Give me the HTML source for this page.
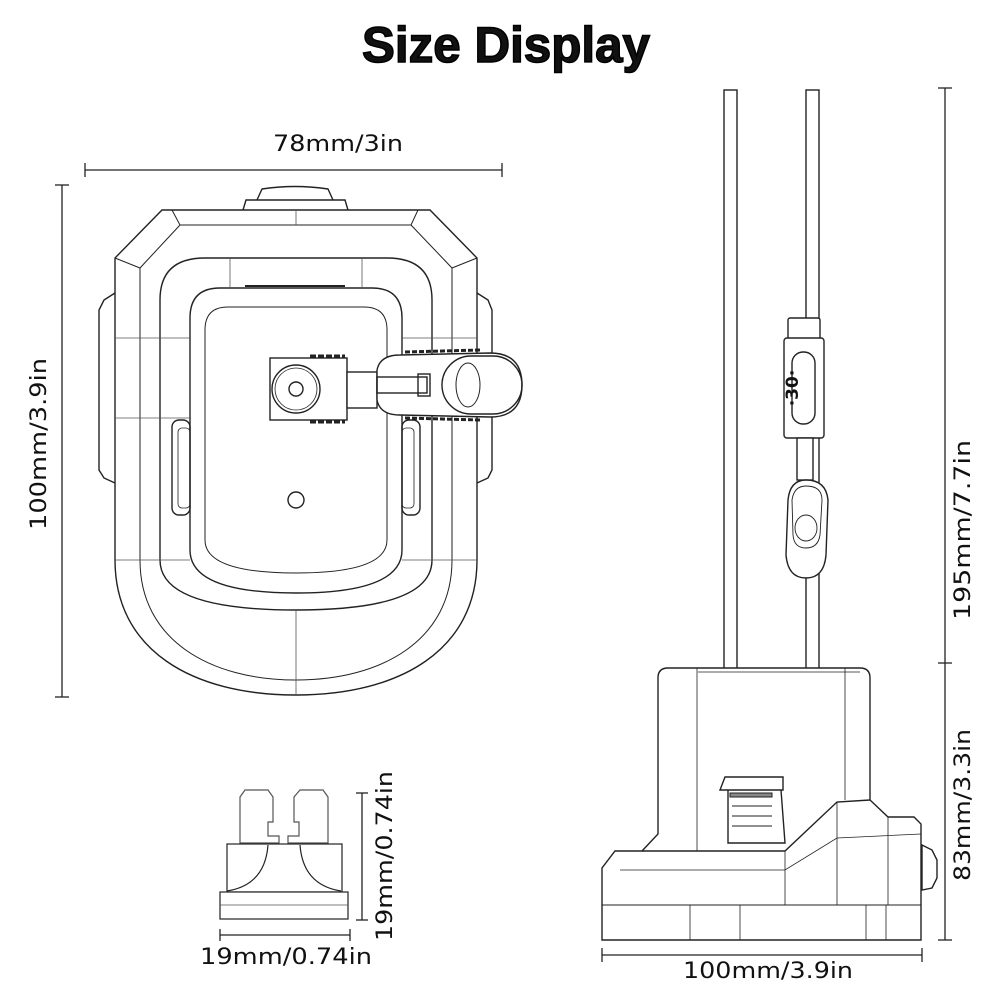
<!DOCTYPE html>
<html><head><meta charset="utf-8"><style>
html,body{margin:0;padding:0;background:#fff;}
svg{display:block;}
text{font-family:"DejaVu Sans","Liberation Sans",sans-serif;fill:#111;}
</style></head><body>
<svg width="1000" height="1000" viewBox="0 0 1000 1000" xmlns="http://www.w3.org/2000/svg">
<text x="506" y="62" font-size="50" font-weight="bold" text-anchor="middle" textLength="288" lengthAdjust="spacingAndGlyphs" stroke="#000" stroke-width="1.5" style="font-family:'Liberation Sans',sans-serif">Size Display</text>

<g stroke="#222" fill="none" stroke-width="1.3">
<line x1="85" y1="170" x2="502" y2="170"/><line x1="85" y1="163" x2="85" y2="177"/><line x1="502" y1="163" x2="502" y2="177"/>
<line x1="62" y1="185" x2="62" y2="697"/><line x1="55" y1="185" x2="69" y2="185"/><line x1="55" y1="697" x2="69" y2="697"/>
<line x1="945" y1="88" x2="945" y2="940"/><line x1="938" y1="88" x2="952" y2="88"/><line x1="938" y1="663" x2="952" y2="663"/><line x1="938" y1="940" x2="952" y2="940"/>
<line x1="602" y1="955" x2="922" y2="955"/><line x1="602" y1="948" x2="602" y2="962"/><line x1="922" y1="948" x2="922" y2="962"/>
<line x1="362" y1="793" x2="362" y2="920"/><line x1="356" y1="793" x2="368" y2="793"/><line x1="356" y1="920" x2="368" y2="920"/>
<line x1="220" y1="935" x2="350" y2="935"/><line x1="220" y1="929" x2="220" y2="941"/><line x1="350" y1="929" x2="350" y2="941"/>
</g>

<text x="338" y="151" font-size="22" text-anchor="middle" textLength="130" lengthAdjust="spacingAndGlyphs">78mm/3in</text>
<text transform="translate(46,444) rotate(-90)" font-size="22" text-anchor="middle" textLength="172" lengthAdjust="spacingAndGlyphs">100mm/3.9in</text>
<text transform="translate(970,530) rotate(-90)" font-size="22" text-anchor="middle" textLength="180" lengthAdjust="spacingAndGlyphs">195mm/7.7in</text>
<text transform="translate(970,805) rotate(-90)" font-size="22" text-anchor="middle" textLength="152" lengthAdjust="spacingAndGlyphs">83mm/3.3in</text>
<text x="768" y="978" font-size="22" text-anchor="middle" textLength="170" lengthAdjust="spacingAndGlyphs">100mm/3.9in</text>
<text x="286" y="964" font-size="22" text-anchor="middle" textLength="172" lengthAdjust="spacingAndGlyphs">19mm/0.74in</text>
<text transform="translate(392,856) rotate(-90)" font-size="22" text-anchor="middle" textLength="170" lengthAdjust="spacingAndGlyphs">19mm/0.74in</text>

<g stroke="#222" fill="none" stroke-width="1.4">
<path d="M257,200 L262,189 Q295,184 328,189 L333,200"/>
<path d="M243,210 L246,200 L345,200 L348,210"/>
<path d="M162,210 L430,210 L477,258 L477,560 C477,650 400,695 296,695 C192,695 115,650 115,560 L115,258 Z"/>
<path d="M172,210 L180,225 L140,268 L140,560 C140,640 210,680 296,680 C382,680 452,640 452,560 L452,268 L411,225 L418,210" stroke-width="1"/>
<line x1="180" y1="225" x2="411" y2="225" stroke-width="1"/>
<line x1="115" y1="258" x2="140" y2="268" stroke-width="1"/><line x1="477" y1="258" x2="452" y2="268" stroke-width="1"/>
<path d="M115,293 L104,300 L99,310 L99,470 L104,478 L115,483"/>
<path d="M477,293 L488,300 L492,310 L492,470 L488,478 L477,483"/>
<path d="M160,300 Q160,258 205,258 L387,258 Q432,258 432,300 L432,560 Q432,610 296,610 Q160,610 160,560 Z"/>
<path d="M190,318 Q190,288 220,288 L372,288 Q402,288 402,318 L402,550 Q402,593 296,593 Q190,593 190,550 Z"/>
<path d="M205,330 Q205,307 228,307 L364,307 Q387,307 387,330 L387,540 Q387,573 296,573 Q205,573 205,540 Z" stroke-width="1"/>
<line x1="245" y1="286" x2="345" y2="286" stroke-width="2"/>
<g stroke-width="0.8" stroke="#555">
<line x1="115" y1="338" x2="190" y2="338"/><line x1="402" y1="338" x2="477" y2="338"/>
<line x1="115" y1="418" x2="190" y2="418"/><line x1="115" y1="560" x2="190" y2="560"/><line x1="402" y1="560" x2="477" y2="560"/>
<line x1="296" y1="210" x2="296" y2="225"/><line x1="296" y1="610" x2="296" y2="695"/>
<line x1="230" y1="258" x2="230" y2="288"/><line x1="362" y1="258" x2="362" y2="288"/>
</g>
<rect x="172" y="420" width="18" height="95" rx="7"/><rect x="178" y="428" width="12" height="80" rx="4" stroke-width="0.8"/>
<rect x="402" y="420" width="18" height="95" rx="7"/><rect x="402" y="428" width="12" height="80" rx="4" stroke-width="0.8"/>
<rect x="270" y="358" width="77" height="62" fill="#fff"/>
<circle cx="296" cy="389" r="24"/><circle cx="296" cy="389" r="21" stroke-width="0.8"/><circle cx="296" cy="389" r="7"/>
<rect x="347" y="372" width="30" height="36" fill="#fff"/>
<path d="M377,370 Q380,355 400,355 L490,353 Q522,353 522,385 Q522,417 490,417 L400,415 Q380,415 377,400 Z" fill="#fff"/>
<rect x="442" y="356" width="80" height="58" rx="29"/>
<ellipse cx="468" cy="385" rx="12" ry="22" stroke-width="1"/>
<rect x="377" y="377" width="50" height="16"/><rect x="418" y="374" width="12" height="22"/>
<line x1="310" y1="356" x2="345" y2="356" stroke-width="3" stroke-dasharray="6 2"/>
<line x1="310" y1="422" x2="345" y2="422" stroke-width="3" stroke-dasharray="6 2"/>
<line x1="405" y1="352" x2="480" y2="350" stroke-width="3" stroke-dasharray="5 2"/>
<line x1="405" y1="418" x2="480" y2="420" stroke-width="3" stroke-dasharray="5 2"/>
<circle cx="296" cy="500" r="8"/>
</g>

<g stroke="#222" fill="#fff" stroke-width="1.4">
<rect x="724" y="90" width="13" height="580"/>
<rect x="806" y="90" width="13" height="580"/>
<rect x="788" y="318" width="32" height="22" rx="2"/>
<rect x="784" y="338" width="40" height="100" rx="3"/>
<rect x="792" y="352" width="23" height="72" rx="11"/>
<rect x="797" y="438" width="16" height="42"/>
<path d="M788,500 Q790,480 806,480 Q826,480 828,500 L826,555 Q824,578 806,578 Q788,578 786,555 Z"/>
<path d="M792,500 Q794,486 806,486 Q822,486 822,500 L820,535 Q818,548 806,548 Q794,548 793,535 Z" stroke-width="0.9"/>
<ellipse cx="806" cy="528" rx="11" ry="13" stroke-width="0.9"/>
<path d="M658,820 L658,678 Q658,668 668,668 L860,668 Q870,668 870,678 L870,800 L888,817 L914,817 L921,824 L921,940 L602,940 L602,868 L615,851 L642,851 L658,834 Z"/>
<path d="M602,905 L921,905" stroke-width="1"/>
<path d="M642,851 L785,851 L837,802 L870,800" fill="none"/>
<path d="M785,851 L785,905 M837,802 L837,905 M888,817 L888,905 M620,870 L785,870 L837,838 L921,834" fill="none" stroke-width="0.8"/>
<path d="M697,668 L697,851 M698,672 L860,672 M845,668 L845,800" fill="none" stroke-width="0.8"/>
<path d="M690,905 L690,940 M740,905 L740,940 M866,905 L866,940 M886,905 L886,940" fill="none" stroke-width="0.8"/>
<path d="M720,790 L725,777 L783,777 L783,790 Z"/>
<path d="M728,790 L728,843 L785,843 L781,790" fill="none"/>
<rect x="730" y="793" width="42" height="4" fill="#888" stroke-width="1"/>
<path d="M732,806 L772,806 M732,816 L772,816 M732,826 L772,826" stroke-width="1"/>
<path d="M922,845 L932,850 L937,860 L937,878 L932,888 L922,890 Z"/>
</g>
<text transform="translate(798,388) rotate(-90)" font-size="17" font-weight="bold" text-anchor="middle">·30·</text>

<g stroke="#555" fill="#fff" stroke-width="1.2">
<path d="M240,843 L240,797 L245,790 L268,790 L273,797 L273,822 L268,822 L268,836 L279,836 L279,843 Z"/>
<path d="M328,843 L328,797 L323,790 L300,790 L294,797 L294,822 L299,822 L299,836 L288,836 L288,843 Z"/>
<rect x="227" y="844" width="115" height="48" stroke="#222"/>
<path d="M268,845 Q265,885 227,891 M300,845 Q303,885 341,891" fill="none" stroke="#222"/>
<rect x="220" y="892" width="128" height="27" stroke="#222"/>
<line x1="220" y1="905" x2="348" y2="905" stroke-width="0.8"/>
</g>
</svg>
</body></html>
